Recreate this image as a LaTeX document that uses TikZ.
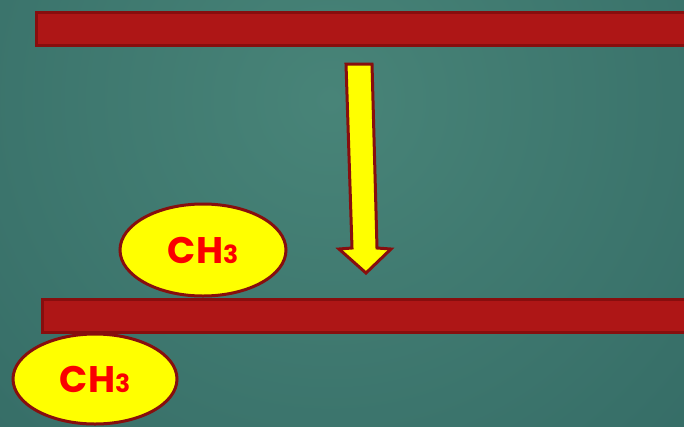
\documentclass[tikz,border=0pt]{standalone}
\usepackage{fontspec}
\setmainfont{Poppins}
\usetikzlibrary{shapes.geometric}
\definecolor{bgin}{RGB}{72,132,120}
\definecolor{bgout}{RGB}{40,92,90}
\definecolor{barfill}{RGB}{174,22,22}
\definecolor{barline}{RGB}{135,14,14}
\definecolor{ylw}{RGB}{255,255,0}
\definecolor{txtred}{RGB}{250,0,0}
\tikzset{
  bar/.style={fill=barfill,draw=barline,line width=3pt},
  molecule/.style={ellipse,fill=ylw,draw=barline,line width=3pt,inner sep=0pt,
    text=txtred,font=\fontsize{37}{40}\selectfont\bfseries},
  downarrow/.style={fill=ylw,draw=barline,line width=3pt,line join=miter}
}
\newcommand{\methyl}{CH{\fontsize{25}{28}\selectfont 3}}
\begin{document}
\begin{tikzpicture}[x=1pt,y=-1pt]
\useasboundingbox (0,0) rectangle (684,426);
\begin{scope}
\clip (0,0) rectangle (684,426);
\shade[inner color=bgin,outer color=bgout] (330,100) circle (850);
\end{scope}
\node[bar,minimum width=660,minimum height=33,inner sep=0pt,anchor=north west] (topbar) at (35,11) {};
\node[bar,minimum width=655,minimum height=33,inner sep=0pt,anchor=north west] (lowbar) at (41,298) {};
\draw[downarrow] (346,64) -- (372,64) -- (377,248) -- (391,249) -- (366,273) -- (339,249) -- (352,248) -- cycle;
\node[molecule,minimum width=166,minimum height=92] (upper) at (203,250) {\methyl};
\node[molecule,minimum width=164,minimum height=90] (lower) at (95,379) {\methyl};
\end{tikzpicture}
\end{document}
